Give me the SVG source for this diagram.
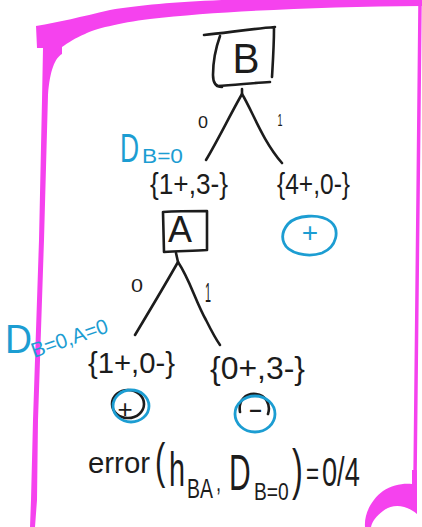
<svg xmlns="http://www.w3.org/2000/svg" width="422" height="527" viewBox="0 0 422 527">
  <style>
    .ink { fill: none; stroke: #1c1c1c; stroke-width: 2.6; stroke-linecap: round; stroke-linejoin: round; }
    .blue { fill: none; stroke: #1c9dd2; stroke-width: 2.8; stroke-linecap: round; }
    .hl { fill: #f542ee; }
    .hls { fill: none; stroke: #f542ee; stroke-linecap: round; }
    text { font-family: "Liberation Sans", Arial, sans-serif; }
    .t { fill: #1c1c1c; }
    .tb { fill: #1c9dd2; }
  </style>

  <rect width="422" height="527" fill="#ffffff"/>

  <!-- highlighter frame -->
  <g id="frame">
    <path class="hl" d="M36,26 C60,22 80,17 110,10 C170,0 260,-3 422,-3 L422,6 C320,7 220,11 150,19 C118,23 95,29 85,34 C75,38 68,43 62,47 L62,54 C55,58 50,70 48,95 L44,240 L38,420 L37,500 L35,527 L30,527 L31,500 L33,420 L39,240 L42,100 L43,48 L37,48 Z"/>
    <path class="hls" stroke-width="3.5" d="M420,4 L418,200 L415,480"/>
    <path class="hl" d="M412,470 L417,470 L417,514 C405,504 392,504 383,511 C376,516 372,522 371,527 L365,527 C364,514 371,500 383,491 C392,485 403,483 412,484 Z"/>
  </g>

  <!-- branches -->
  <g id="edges">
    <path class="ink" d="M242,89 L242,94 M242,94 C230,115 218,140 206,160"/>
    <path class="ink" d="M242,94 C252,110 262,140 282,163"/>
    <path class="ink" d="M176,253 L178,262 M178,262 C165,285 150,310 135,335"/>
    <path class="ink" d="M178,262 C190,280 195,300 206,320 C211,330 215,338 220,345"/>
    <text class="t" x="203" y="128" font-size="16" text-anchor="middle" textLength="10" lengthAdjust="spacingAndGlyphs">0</text>
    <text class="t" x="280" y="126" font-size="16" text-anchor="middle" textLength="5" lengthAdjust="spacingAndGlyphs">1</text>
    <text class="t" x="137" y="292" font-size="18" text-anchor="middle" textLength="12" lengthAdjust="spacingAndGlyphs">0</text>
    <text class="t" x="208" y="302" font-size="28" text-anchor="middle" textLength="6" lengthAdjust="spacingAndGlyphs">1</text>
  </g>

  <!-- root split on B -->
  <g id="node-B">
    <path class="ink" d="M204,35 C225,33 250,29 275,27 M274,28 C274,45 273,60 272,77 M217,86 C235,85 252,83 270,82 M220,36 C215,50 213,65 213,75 C213,83 216,87 222,87"/>
    <text class="t" x="246" y="73" font-size="42" text-anchor="middle" textLength="27" lengthAdjust="spacingAndGlyphs">B</text>
  </g>

  <g id="set-B0">
    <text class="tb" transform="translate(120,162) scale(0.66,1)" font-size="40">D</text>
    <text class="tb" x="142" y="163" font-size="20" textLength="41" lengthAdjust="spacingAndGlyphs">B=0</text>
    <text class="t" x="150" y="194" font-size="30" textLength="78" lengthAdjust="spacingAndGlyphs">{1+,3-}</text>
  </g>

  <g id="set-B1">
    <text class="t" x="277" y="194" font-size="30" textLength="73" lengthAdjust="spacingAndGlyphs">{4+,0-}</text>
  </g>

  <!-- leaf: B = 1 -->
  <g id="leaf-B1">
    <path class="blue" d="M288,224 C296,215 320,213 331,222 C340,230 337,247 322,253 C307,258 288,253 284,243 C281,236 283,230 288,224"/>
    <text class="tb" x="310" y="242" font-size="28" text-anchor="middle">+</text>
  </g>

  <!-- split on A -->
  <g id="node-A">
    <path class="ink" d="M163,212 L164,252 M163,212 C178,211 193,211 207,211 M207,211 L207,250 M164,252 C178,251 193,251 207,250"/>
    <text class="t" x="180" y="242" font-size="37" text-anchor="middle" textLength="24" lengthAdjust="spacingAndGlyphs">A</text>
  </g>

  <g id="set-A">
    <text class="tb" x="5" y="353" font-size="40" textLength="27" lengthAdjust="spacingAndGlyphs">D</text>
    <text class="tb" transform="translate(34,358) rotate(-19)" font-size="21" textLength="80" lengthAdjust="spacingAndGlyphs">B=0,A=0</text>
    <text class="t" x="88" y="373" font-size="30" textLength="87" lengthAdjust="spacingAndGlyphs">{1+,0-}</text>
    <text class="t" x="210" y="379" font-size="32" textLength="95" lengthAdjust="spacingAndGlyphs">{0+,3-}</text>
  </g>

  <!-- leaf: A = 0 -->
  <g id="leaf-A0">
    <ellipse class="ink" cx="128" cy="404" rx="16" ry="14"/>
    <ellipse class="blue" cx="131" cy="406" rx="18" ry="16" stroke-width="3.6"/>
    <text class="t" x="125" y="418" font-size="26" text-anchor="middle">+</text>
  </g>

  <!-- leaf: A = 1 -->
  <g id="leaf-A1">
    <path class="ink" d="M240,412 C238,400 246,393 256,394 C266,395 271,405 268,414"/>
    <ellipse class="blue" cx="255" cy="414" rx="20" ry="18" stroke-width="3.2"/>
    <text class="t" x="248" y="418" font-size="28" textLength="15" lengthAdjust="spacingAndGlyphs">-</text>
  </g>

  <!-- error of the tree on the B=0 subset; tall narrow glyphs are squeezed horizontally -->
  <g id="error-label">
    <text class="t" x="88" y="473" font-size="30" textLength="62" lengthAdjust="spacingAndGlyphs">error</text>
    <text class="t" transform="translate(155,478) scale(0.62,1)" font-size="50">(</text>
    <text class="t" transform="translate(169,486) scale(0.6,1)" font-size="48">h</text>
    <text class="t" transform="translate(187,498) scale(0.72,1)" font-size="27">BA</text>
    <text class="t" transform="translate(216,491) scale(0.7,1)" font-size="26">,</text>
    <text class="t" transform="translate(229,490) scale(0.6,1)" font-size="50">D</text>
    <text class="t" transform="translate(254,500) scale(0.8,1)" font-size="24">B=0</text>
    <text class="t" transform="translate(292,488) scale(0.58,1)" font-size="56">)</text>
    <text class="t" transform="translate(306,484) scale(0.7,1)" font-size="32">=</text>
    <text class="t" transform="translate(322,486) scale(0.68,1)" font-size="40">0/4</text>
  </g>
</svg>
